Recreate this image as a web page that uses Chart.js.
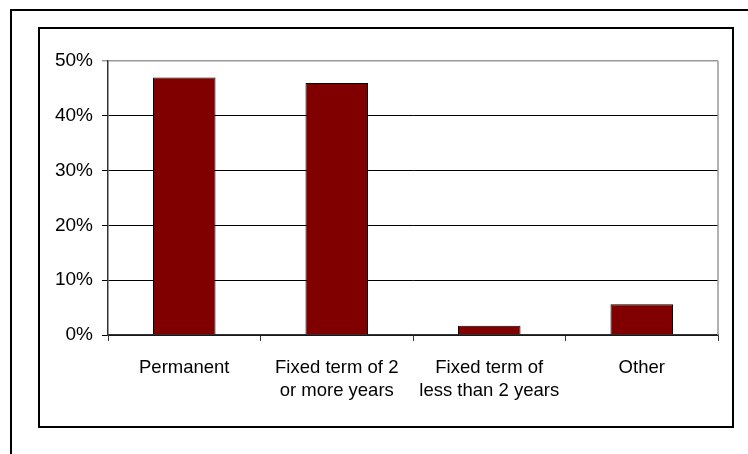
<!DOCTYPE html>
<html>
<head>
<meta charset="utf-8">
<script src="https://cdn.jsdelivr.net/npm/chart.js@4"></script>
<style>
    body { margin: 0; background: #fff; }
    .frame { position: absolute; left: 10px; top: 9px; width: 800px; height: 500px; border: 2px solid #000; }
    .box { position: absolute; left: 38px; top: 27px; width: 692px; height: 397px; border: 2px solid #000; }
    #chart { position: absolute; left: 0; top: 0; }
</style>
</head>
<body>
<div class="frame"></div>
<div class="box"></div>
<canvas id="chart" width="748" height="454"></canvas>
<script>
// Data
const categories = [
    'Permanent',
    ['Fixed term of 2', 'or more years'],
    ['Fixed term of', 'less than 2 years'],
    'Other'
];
const shares = [47, 46, 1.7, 5.6];
const yTicks = [0, 10, 20, 30, 40, 50];

// right-hand border of the plot area
const plotBorder = {
    id: 'plotBorder',
    afterDatasetsDraw(chart) {
        const { ctx, chartArea } = chart;
        ctx.save();
        ctx.strokeStyle = '#999';
        ctx.lineWidth = 1.5;
        ctx.beginPath();
        ctx.moveTo(chartArea.right, chartArea.top);
        ctx.lineTo(chartArea.right, chartArea.bottom);
        ctx.stroke();
        ctx.restore();
    }
};

const ctx = document.getElementById('chart').getContext('2d');
new Chart(ctx, {
    type: 'bar',
    data: {
        labels: categories,
        datasets: [{
            data: shares,
            backgroundColor: '#800000',
            borderColor: '#000',
            borderWidth: 1,
            barPercentage: 0.41,
            categoryPercentage: 1
        }]
    },
    options: {
        responsive: false,
        animation: false,
        layout: { padding: { left: 48, right: 30, top: 61, bottom: 39 } },
        plugins: {
            legend: { display: false },
            tooltip: { enabled: false }
        },
        scales: {
            x: {
                afterFit: (s) => { s.height = 80; },
                grid: {
                    offset: true,
                    drawOnChartArea: false,
                    tickLength: 6,
                    color: '#333'
                },
                border: { color: '#333', width: 1.5 },
                ticks: {
                    color: '#000',
                    padding: 16,
                    maxRotation: 0,
                    font: { family: 'Liberation Sans, Arial', size: 18.5, lineHeight: 1.22 }
                }
            },
            y: {
                min: 0,
                max: 50,
                afterFit: (s) => { s.width = 60; },
                afterBuildTicks: (s) => { s.ticks = yTicks.map(v => ({ value: v })); },
                grid: {
                    tickLength: 6,
                    color: (c) => c.tick && c.tick.value === 50 ? '#999' : '#000',
                    lineWidth: (c) => c.tick && c.tick.value === 50 ? 1.5 : 1
                },
                border: { color: '#333', width: 1.5 },
                ticks: {
                    color: '#000',
                    padding: 9,
                    callback: (v) => v + '%',
                    font: { family: 'Liberation Sans, Arial', size: 19 }
                }
            }
        }
    },
    plugins: [plotBorder]
});
</script>
</body>
</html>
